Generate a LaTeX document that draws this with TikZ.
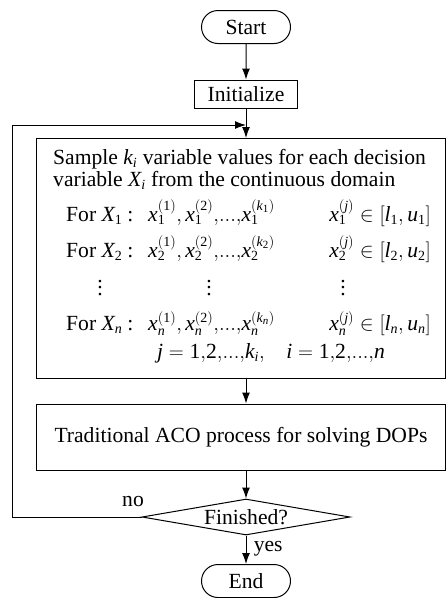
\documentclass[tikz,border=0pt]{standalone}
\usepackage{mathspec}
\setmainfont{Liberation Serif}
\setmathsfont(Digits,Latin){Liberation Serif}
\DeclareMathSizes{21.6}{21.6}{14}{11}
\usetikzlibrary{shapes.geometric,shapes.misc,arrows.meta}

\newcommand{\stackdots}{\vbox{\baselineskip6.5pt\lineskiplimit0pt\hbox{.}\hbox{.}\hbox{.}}}

\tikzset{
  flow/.style={draw, line width=1pt},
  terminal/.style={flow, rounded rectangle, minimum width=89pt, minimum height=33pt, inner sep=0pt},
  process/.style={flow, rectangle, inner sep=0pt},
  decision/.style={flow, diamond, aspect=5.8, inner sep=0pt, minimum width=208pt, minimum height=36pt},
  link/.style={line width=1pt, ->},
  txt/.style={anchor=base west, inner sep=0pt},
  vdot/.style={inner sep=0pt},
}

\begin{document}
\begin{tikzpicture}[x=1pt, y=-1pt, >={Latex[length=11pt,width=8pt]}, font=\fontsize{21.6pt}{26pt}\selectfont]
  \useasboundingbox (0,0) rectangle (446,598);
  % blocs
  \node[terminal] (start) at (246,27) {Start};
  \node[process, minimum width=103pt, minimum height=28pt] (init) at (246,94) {Initialize};
  \node[process, minimum width=409pt, minimum height=240pt] (sample) at (241,258.5) {};
  \node[process, minimum width=409pt, minimum height=66pt] (aco) at (241,437) {Traditional ACO process for solving DOPs};
  \node[decision] (check) at (246,517) {Finished?};
  \node[terminal] (end) at (246,581) {End};

  % contenu du bloc d'echantillonnage
  \node[txt] (line1) at (53,164) {Sample $k_i$ variable values for each decision};
  \node[txt] (line2) at (53,186) {variable $X_i$ from the continuous domain};
  \foreach \r/\y in {1/221,2/257,n/330} {
    \node[txt] (for\r) at (66,\y) {For $X_{\r}$\hspace{5pt}:};
    \node[txt] (seq\r) at (148,\y) {$x_{\r}^{(1)},x_{\r}^{(2)}{,}...{,}x_{\r}^{(k_{\r})}$};
    \node[txt, anchor=base east] (dom\r) at (431,\y) {$x_{\r}^{(j)}\in[l_{\r},u_{\r}]$};
  }
  \foreach \c/\x in {a/100,b/209,c/343}
    \node[vdot] (dots\c) at (\x,288) {\stackdots};
  \node[txt] (range) at (157,358) {$j=1{,}2{,}...{,}k_i{,}\quad i=1{,}2{,}...{,}n$};

  % liaisons
  \coordinate (join) at (246,125);
  \coordinate (back) at (12,517);
  \draw[link] (start) -- (init);
  \draw[link] (init) -- (init |- sample.north);
  \draw[link] (check.west) -- (back) |- (join);
  \draw[link] (sample.south -| check) -- (aco.north -| check);
  \draw[link] (aco.south -| check) -- (check);
  \draw[link] (check) -- node[right=4pt, pos=0.45] (yes) {yes} (end);
  \node (no) at (133,502) {no};
\end{tikzpicture}
\end{document}
